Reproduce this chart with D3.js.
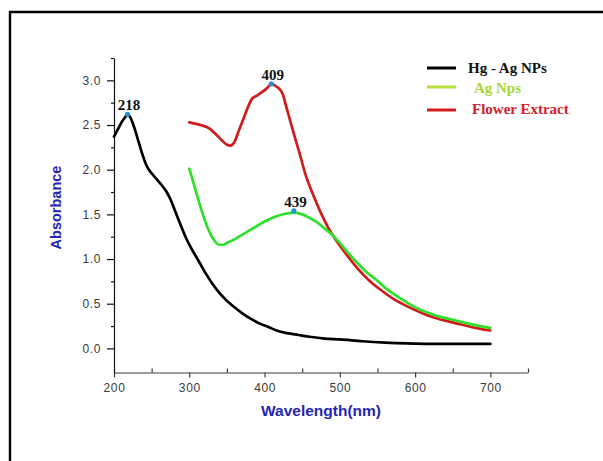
<!DOCTYPE html>
<html>
<head>
<meta charset="utf-8">
<script src="https://cdn.jsdelivr.net/npm/d3@7/dist/d3.min.js"></script>
<style>
  html, body { margin: 0; padding: 0; background: #fff; }
  svg { display: block; }
</style>
</head>
<body>
<svg id="chart" width="603" height="461"></svg>
<script>
// ---------- DATA ----------
const seriesNames = ["Hg - Ag NPs", " Ag Nps", "Flower Extract"];

const hgWavelength = [200,205,210,215,218,222,227,232,237,242,247,252,258,264,270,276,282,289,296,304,313,321,331,340,349,360,371,382,393,405,416,430,445,460,480,500,530,560,590,620,650,700];
const hgAbsorbance = [2.37,2.45,2.53,2.59,2.62,2.58,2.47,2.33,2.19,2.07,1.99,1.94,1.88,1.82,1.75,1.65,1.52,1.37,1.23,1.10,0.97,0.85,0.72,0.62,0.54,0.46,0.39,0.33,0.28,0.24,0.20,0.17,0.15,0.13,0.11,0.10,0.08,0.065,0.055,0.05,0.05,0.05];

const flowerWavelength = [300,315,327,335,343,350,355,360,366,372,378,383,390,397,403,409,414,419,424,429,433,438,446,455,464,473,484,495,508,522,539,555,570,585,600,620,640,660,680,700];
const flowerAbsorbance = [2.53,2.50,2.46,2.40,2.33,2.28,2.27,2.31,2.44,2.57,2.70,2.79,2.83,2.87,2.91,2.96,2.94,2.91,2.85,2.70,2.58,2.43,2.20,1.93,1.73,1.55,1.36,1.21,1.06,0.91,0.76,0.65,0.56,0.49,0.43,0.36,0.31,0.27,0.23,0.20];

const agWavelength = [300,305,310,315,320,325,330,335,340,345,350,360,370,380,390,400,410,420,430,439,450,460,470,480,490,500,512,524,536,548,560,575,590,605,620,635,650,665,680,700];
const agAbsorbance = [2.01,1.87,1.72,1.58,1.45,1.34,1.25,1.19,1.16,1.16,1.18,1.22,1.27,1.32,1.37,1.42,1.46,1.49,1.51,1.52,1.50,1.46,1.41,1.34,1.27,1.18,1.06,0.95,0.85,0.77,0.68,0.59,0.51,0.44,0.39,0.35,0.32,0.29,0.26,0.23];

const peakLabels = ["218", "409", "439"];
const peakWavelength = [218, 409, 439];
const peakAbsorbance = [2.62, 2.96, 1.54];

const xMajorTicks = [200, 300, 400, 500, 600, 700];
const xMinorTicks = [250, 350, 450, 550, 650, 750];
const yMajorTicks = [0.0, 0.5, 1.0, 1.5, 2.0, 2.5, 3.0];
const yMinorTicks = [0.25, 0.75, 1.25, 1.75, 2.25, 2.75, 3.25];

const xTitle = "Wavelength(nm)";
const yTitle = "Absorbance";

// ---------- DRAW ----------
const svg = d3.select("#chart");

// outer frame (top and left sides visible)
svg.append("path")
  .attr("d", "M10,461 L10,12 L603,12")
  .attr("fill", "none")
  .attr("stroke", "#000")
  .attr("stroke-width", 2.4);

const x = d3.scaleLinear().domain([200, 750]).range([114, 528]);
const y = d3.scaleLinear().domain([-0.27, 3.25]).range([372.5, 58]);

const tickFont = "'Liberation Sans', Arial, sans-serif";

// X axis
const xAxisG = svg.append("g").attr("transform", `translate(0,${y(-0.27)})`);
xAxisG.call(d3.axisBottom(x).tickValues(xMajorTicks).tickSize(5).tickSizeOuter(0).tickPadding(5.5).tickFormat(d3.format("d")));
xAxisG.append("g").call(d3.axisBottom(x).tickValues(xMinorTicks).tickSize(-4).tickSizeOuter(0).tickFormat(""))
  .select(".domain").remove();
xAxisG.selectAll("path, line").attr("stroke", "#3a3a3a").attr("stroke-width", 1.2);
xAxisG.selectAll("text")
  .attr("font-family", tickFont).attr("font-size", 12).attr("fill", "#3a3a3a")
  .attr("letter-spacing", "0.6px");

// Y axis
const yAxisG = svg.append("g").attr("transform", `translate(${x(200)},0)`);
yAxisG.call(d3.axisLeft(y).tickValues(yMajorTicks).tickSize(7).tickSizeOuter(0).tickPadding(6).tickFormat(d3.format(".1f")));
yAxisG.append("g").call(d3.axisLeft(y).tickValues(yMinorTicks).tickSize(3).tickSizeOuter(0).tickFormat(""))
  .select(".domain").remove();
yAxisG.selectAll("path, line").attr("stroke", "#111").attr("stroke-width", 1.2);
yAxisG.selectAll("text")
  .attr("font-family", tickFont).attr("font-size", 12).attr("fill", "#3a3a3a")
  .attr("letter-spacing", "0.6px");

// Axis titles
svg.append("text")
  .attr("x", 321).attr("y", 416)
  .attr("text-anchor", "middle")
  .attr("font-family", tickFont).attr("font-weight", "bold").attr("font-size", 15.5)
  .attr("fill", "#2525b0")
  .text(xTitle);

svg.append("text")
  .attr("transform", "translate(61,207.5) rotate(-90)")
  .attr("text-anchor", "middle")
  .attr("font-family", tickFont).attr("font-weight", "bold").attr("font-size", 14.5)
  .attr("fill", "#2525b0")
  .text(yTitle);

// Lines
const line = d3.line()
  .x(d => x(d[0]))
  .y(d => y(d[1]))
  .curve(d3.curveMonotoneX);

const series = [
  { wl: hgWavelength, ab: hgAbsorbance, color: "#000000" },
  { wl: flowerWavelength, ab: flowerAbsorbance, color: "#cf1d1d" },
  { wl: agWavelength, ab: agAbsorbance, color: "#2ee02a" }
];

series.forEach(s => {
  svg.append("path")
    .datum(d3.zip(s.wl, s.ab))
    .attr("fill", "none")
    .attr("stroke", s.color)
    .attr("stroke-width", 2.7)
    .attr("stroke-linejoin", "round")
    .attr("stroke-linecap", "round")
    .attr("d", line);
});

// Peak markers & labels
const serif = "'Liberation Serif', 'Times New Roman', serif";
peakLabels.forEach((lbl, i) => {
  const px = x(peakWavelength[i]);
  const py = y(peakAbsorbance[i]);
  svg.append("circle")
    .attr("cx", px).attr("cy", py).attr("r", 2.6)
    .attr("fill", "#2b8fd6");
  svg.append("text")
    .attr("x", px + 1.5).attr("y", py - 4)
    .attr("text-anchor", "middle")
    .attr("font-family", serif).attr("font-weight", "bold").attr("font-size", 15)
    .attr("fill", "#111")
    .text(lbl);
});

// Legend
const legendLineColors = ["#000000", "#b4e03a", "#cf1d1d"];
const legendTextColors = ["#111111", "#a6d836", "#d4202c"];
const legendLineY = [68, 87, 110];
const legendTextX = [468, 471, 472];
const legendTextY = [73, 93, 114];

seriesNames.forEach((name, i) => {
  svg.append("line")
    .attr("x1", 427).attr("x2", 456)
    .attr("y1", legendLineY[i]).attr("y2", legendLineY[i])
    .attr("stroke", legendLineColors[i]).attr("stroke-width", 3);
  svg.append("text")
    .attr("x", legendTextX[i]).attr("y", legendTextY[i])
    .attr("font-family", serif).attr("font-weight", "bold").attr("font-size", 15)
    .attr("fill", legendTextColors[i])
    .attr("xml:space", "preserve")
    .style("white-space", "pre")
    .text(name);
});
</script>
</body>
</html>
